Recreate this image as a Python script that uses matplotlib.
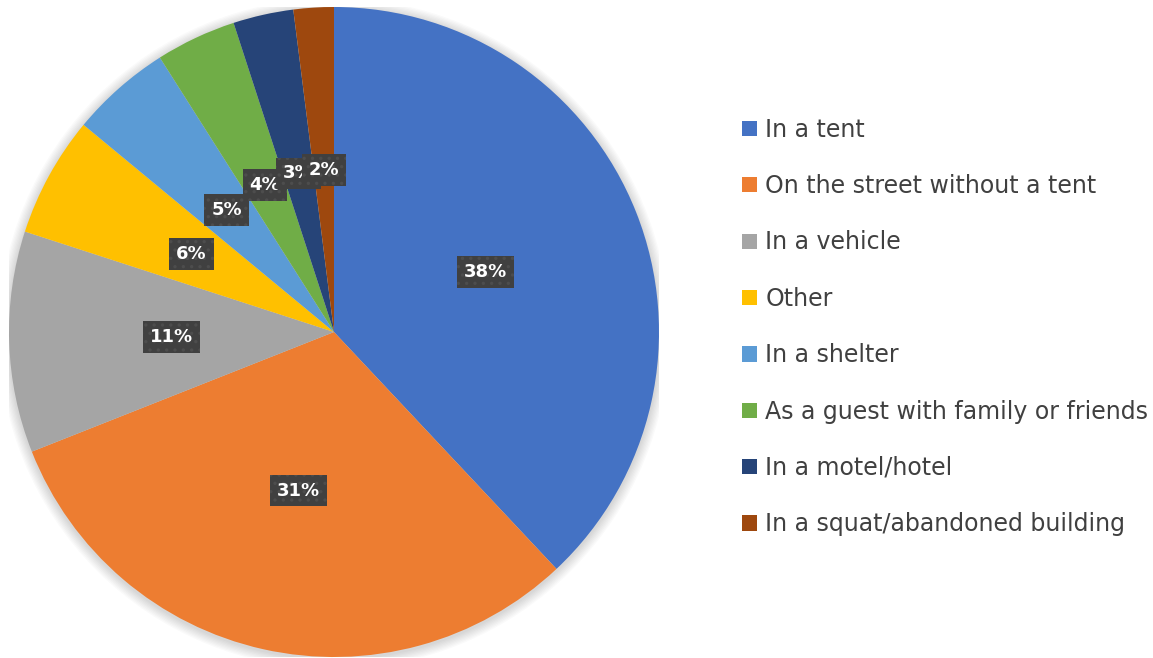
import matplotlib.pyplot as plt
from matplotlib.patches import Patch, Circle

categories = ['In a tent', 'On the street without a tent', 'In a vehicle', 'Other',
              'In a shelter', 'As a guest with family or friends', 'In a motel/hotel',
              'In a squat/abandoned building']
shares = [38, 31, 11, 6, 5, 4, 3, 2]
colors = ['#4472C4', '#ED7D31', '#A5A5A5', '#FFC000', '#5B9BD5', '#70AD47',
          '#264478', '#9E480E']

W, H = 1153, 658
fig = plt.figure(figsize=(W / 100, H / 100), dpi=100)
ax = fig.add_axes([9 / W, 1 / H, 650 / W, 650 / H])

# soft shadow round the pie
for k in range(8):
    ax.add_patch(Circle((0.0, -0.005), 1.0 + 0.004 * (k + 1), color='black',
                        alpha=0.02, lw=0, zorder=0))

plt.rcParams['hatch.linewidth'] = 1.2
wedges, texts, autotexts = ax.pie(
    shares, colors=colors, startangle=90, counterclock=False, radius=1.0,
    autopct='%d%%', pctdistance=0.5, wedgeprops=dict(linewidth=0),
    textprops=dict(color='white', fontsize=13, fontweight='bold'))

ax.set_xlim(-1.0, 1.0)
ax.set_ylim(-1.0, 1.0)
ax.set_aspect('equal')
ax.axis('off')

for t in autotexts:
    t.set_bbox(dict(boxstyle='square,pad=0.38', fc='#404040', ec='#4d4d4d',
                    lw=0, hatch='..'))

handles = [Patch(facecolor=c, edgecolor='none') for c in colors]
leg = fig.legend(handles, categories, loc='center left',
                 bbox_to_anchor=(721 / W, 1 - 327 / H), frameon=False,
                 fontsize=17, labelcolor='#404040', handlelength=0.62,
                 handleheight=0.62, handletextpad=0.35, labelspacing=1.37)

fig.savefig('out.png', dpi=100)
